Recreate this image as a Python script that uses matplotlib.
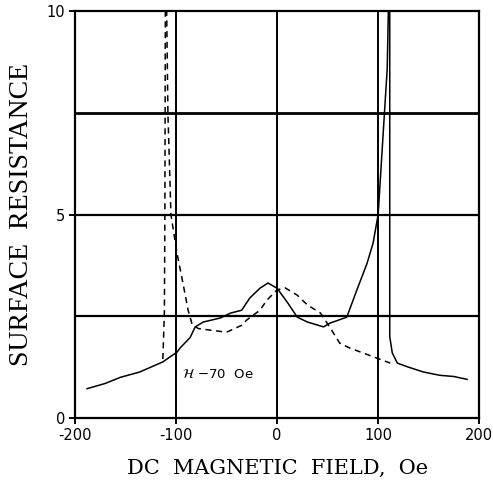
# Surface resistance vs DC magnetic field (hysteresis sweep)
import numpy as np
import matplotlib.pyplot as plt

# DATA
###################################
# solid sweep: field (Oe), surface resistance
fwd_field = [-188, -170, -155, -136, -113, -99, -96, -86, -81, -73, -56, -46,
             -35, -27, -17, -9, 0, 10, 20, 30, 46, 52, 60, 69, 79, 89, 95,
             100, 105, 109, 110.5, 111.5, 111.5, 114, 119, 130, 145, 161,
             175, 188]
fwd_res = [0.72, 0.85, 1.0, 1.13, 1.38, 1.62, 1.72, 1.98, 2.24, 2.36, 2.46,
           2.58, 2.65, 2.95, 3.19, 3.32, 3.19, 2.85, 2.48, 2.36, 2.24, 2.33,
           2.4, 2.48, 3.15, 3.8, 4.3, 5.0, 7.0, 8.6, 10.5, 10.5, 2.0, 1.6,
           1.35, 1.25, 1.13, 1.05, 1.02, 0.95]

# dashed sweep
rev_field = [-113, -111.5, -111, -110.5, -109.5, -108, -105, -99, -93, -88,
             -84, -78, -66, -50, -42, -35, -30, -17, -10, 0, 8, 20, 30, 43,
             52, 62, 72, 85, 99, 112]
rev_res = [1.45, 2.6, 5.0, 10.5, 10.5, 7.5, 5.0, 4.05, 3.3, 2.65, 2.3, 2.2,
           2.16, 2.11, 2.2, 2.28, 2.41, 2.65, 2.9, 3.15, 3.2, 3.02, 2.78,
           2.58, 2.24, 1.84, 1.72, 1.6, 1.47, 1.35]

x_ticks = [-200, -100, 0, 100, 200]
x_tick_labels = ["-200", "-100", "0", "100", "200"]
y_ticks = [0, 5, 10]
y_tick_labels = ["0", "5", "10"]
h_grid = [2.5, 5, 7.5]
v_grid = [-100, 0, 100]

# PLOT
###################################
fig = plt.figure(figsize=(4.93, 4.87), dpi=100)
ax = fig.add_axes([0.152, 0.1417, 0.82, 0.835])

for g in h_grid:
    ax.axhline(g, color="black", lw=1.6 if g != 7.5 else 2.0, zorder=1)
for g in v_grid:
    ax.axvline(g, color="black", lw=1.4, zorder=1)

ax.plot(fwd_field, fwd_res, color="black", lw=1.1, zorder=3)
ax.plot(rev_field, rev_res, color="black", lw=1.1, ls=(0, (4, 3)), zorder=3)

ax.text(-94, 1.06, r"$\mathcal{H}$ $-$70  Oe", fontsize=9.5,
        va="center", ha="left", family="DejaVu Sans")

ax.set_xlim(-200, 200)
ax.set_ylim(0, 10)
ax.set_xticks(x_ticks)
ax.set_xticklabels(x_tick_labels)
ax.set_yticks(y_ticks)
ax.set_yticklabels(y_tick_labels)
ax.tick_params(direction="out", length=4, width=1.4, labelsize=10.5, pad=3)
for s in ax.spines.values():
    s.set_linewidth(1.6)

ax.set_xlabel("DC  MAGNETIC  FIELD,  Oe", family="DejaVu Serif",
              fontsize=15, labelpad=12)
ax.set_ylabel("SURFACE  RESISTANCE", family="Liberation Serif",
              fontsize=20, labelpad=9)

fig.savefig("out.png", dpi=100)
